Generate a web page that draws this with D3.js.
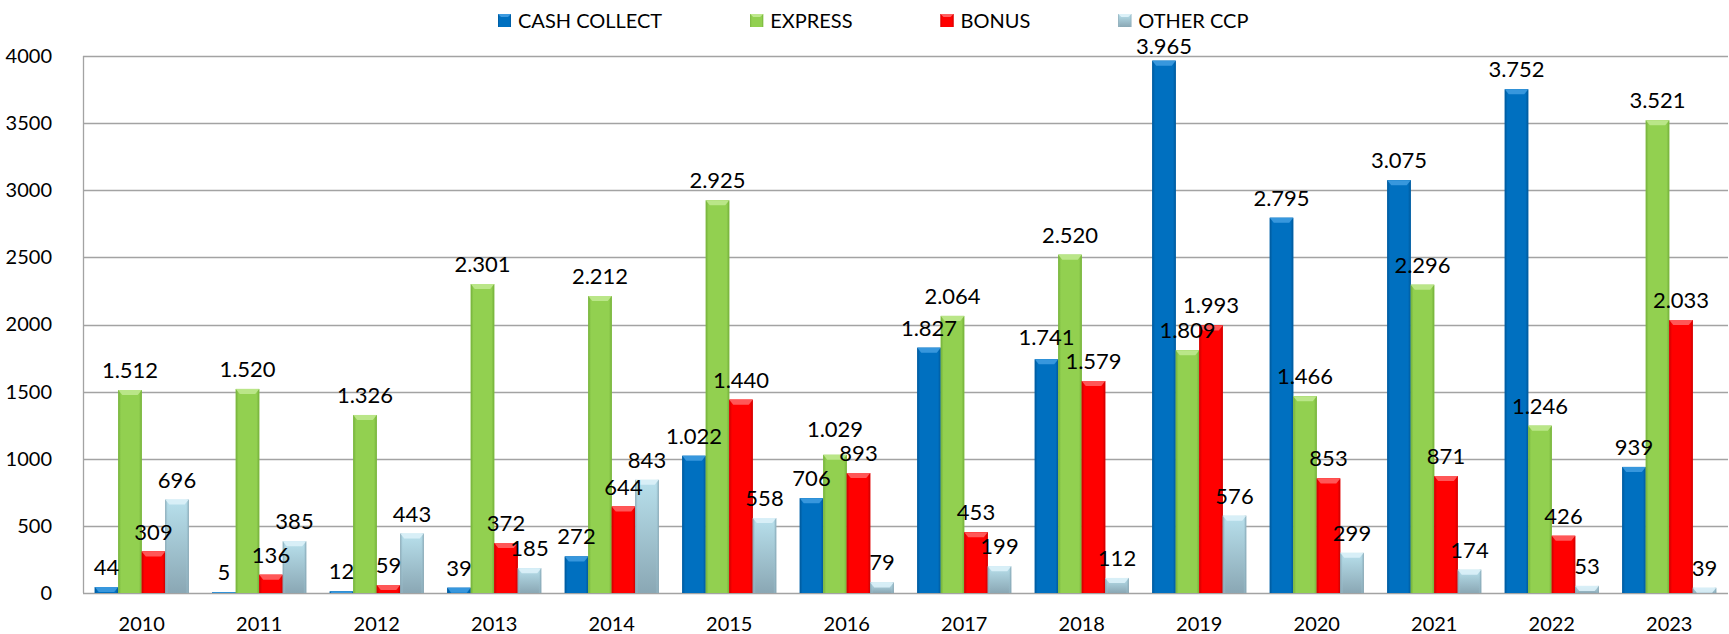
<!DOCTYPE html>
<html>
<head>
<meta charset="utf-8">
<script src="https://cdn.jsdelivr.net/npm/d3@7"></script>
<style>
  body { margin: 0; background: #fff; }
  svg { display: block; font-family: Lato, "Open Sans", sans-serif; }
</style>
</head>
<body>
<div id="chart"></div>
<script>
// data
var years = ["2010","2011","2012","2013","2014","2015","2016","2017","2018","2019","2020","2021","2022","2023"];
var seriesNames = ["CASH COLLECT", "EXPRESS", "BONUS", "OTHER CCP"];
var cashCollect = [44, 5, 12, 39, 272, 1022, 706, 1827, 1741, 3965, 2795, 3075, 3752, 939];
var express     = [1512, 1520, 1326, 2301, 2212, 2925, 1029, 2064, 2520, 1809, 1466, 2296, 1246, 3521];
var bonus       = [309, 136, 59, 372, 644, 1440, 893, 453, 1579, 1993, 853, 871, 426, 2033];
var otherCcp    = [696, 385, 443, 185, 843, 558, 79, 199, 112, 576, 299, 174, 53, 39];
var yTicks = [0, 500, 1000, 1500, 2000, 2500, 3000, 3500, 4000];

var allSeries = [cashCollect, express, bonus, otherCcp];

var width = 1729, height = 634;
var margin = { left: 83, right: 1, top: 56, bottom: 41 };

// colours: body, edge, bevel
var styles = [
    { key: "s0", body: "#0070C0", edge: "#00589a", bevel: "#3d9be0" },
    { key: "s1", body: "#92D050", edge: "#74b03a", bevel: "#bfe88e" },
    { key: "s2", body: "#FF0000", edge: "#cc0000", bevel: "#ff6060" },
    { key: "s3", body: "#A9D2E0", edge: "#7f9eac", bevel: "#dcf1f8", top: "#B8E0EC", bottom: "#8AA7B4" }
];

var fmt = d3.formatLocale({ decimal: ",", thousands: ".", grouping: [3], currency: ["", "€"] }).format(",d");

var svg = d3.select("#chart").append("svg")
    .attr("width", width)
    .attr("height", height);

var defs = svg.append("defs");
styles.forEach(function(s, i){
    var g = defs.append("linearGradient").attr("id", "h" + s.key)
        .attr("x1", "0").attr("x2", "1").attr("y1", "0").attr("y2", "0");
    g.append("stop").attr("offset", "0").attr("stop-color", s.edge);
    g.append("stop").attr("offset", "0.12").attr("stop-color", s.body).attr("stop-opacity", i == 3 ? 0 : 1);
    g.append("stop").attr("offset", "0.88").attr("stop-color", s.body).attr("stop-opacity", i == 3 ? 0 : 1);
    g.append("stop").attr("offset", "1").attr("stop-color", s.edge);
    if (s.top) {
        var v = defs.append("linearGradient").attr("id", "v" + s.key)
            .attr("x1", "0").attr("x2", "0").attr("y1", "0").attr("y2", "1");
        v.append("stop").attr("offset", "0").attr("stop-color", s.top);
        v.append("stop").attr("offset", "1").attr("stop-color", s.bottom);
    }
});

var x0 = d3.scaleBand()
    .domain(years)
    .range([margin.left, width - margin.right]);

var x1 = d3.scaleBand()
    .domain(d3.range(seriesNames.length))
    .range([0, x0.bandwidth()])
    .paddingOuter(0.5);

var y = d3.scaleLinear()
    .domain([0, 4000])
    .range([height - margin.bottom, margin.top]);

// gridlines
svg.append("g").selectAll("line")
    .data(yTicks)
    .enter().append("line")
    .attr("x1", margin.left)
    .attr("x2", width - margin.right)
    .attr("y1", d => Math.round(y(d)) + 0.5)
    .attr("y2", d => Math.round(y(d)) + 0.5)
    .attr("stroke", "#a3a3a3")
    .attr("stroke-width", 1.3);

svg.append("line")
    .attr("x1", margin.left + 0.5).attr("x2", margin.left + 0.5)
    .attr("y1", y(4000)).attr("y2", y(0))
    .attr("stroke", "#a3a3a3")
    .attr("stroke-width", 1.3);

// y axis labels
var yAxis = svg.append("g")
    .attr("transform", "translate(" + margin.left + ",0)")
    .call(d3.axisLeft(y).tickValues(yTicks).tickSize(0).tickPadding(31).tickFormat(d3.format("d")));
yAxis.select(".domain").remove();
yAxis.selectAll("text")
    .attr("font-family", "Lato, sans-serif")
    .attr("font-size", 20)
    .attr("fill", "#000");

// x axis labels
var xAxis = svg.append("g")
    .attr("transform", "translate(0," + y(0) + ")")
    .call(d3.axisBottom(x0).tickSize(0).tickPadding(24));
xAxis.select(".domain").remove();
xAxis.selectAll("text")
    .attr("font-family", "Lato, sans-serif")
    .attr("font-size", 20)
    .attr("fill", "#000");

// bars
var bars = [];
years.forEach(function(yr, i){
    allSeries.forEach(function(arr, s){
        bars.push({ year: yr, i: i, s: s, value: arr[i] });
    });
});

var barG = svg.append("g").selectAll("g")
    .data(bars)
    .enter().append("g");

barG.append("rect")
    .attr("x", d => x0(d.year) + x1(d.s))
    .attr("y", d => y(d.value))
    .attr("width", x1.bandwidth())
    .attr("height", d => y(0) - y(d.value))
    .attr("fill", d => styles[d.s].top ? "url(#v" + styles[d.s].key + ")" : styles[d.s].body);

barG.append("rect")
    .attr("x", d => x0(d.year) + x1(d.s))
    .attr("y", d => y(d.value))
    .attr("width", x1.bandwidth())
    .attr("height", d => y(0) - y(d.value))
    .attr("fill", d => "url(#h" + styles[d.s].key + ")");

// bevelled top edge
barG.append("path")
    .attr("d", function(d){
        var bx = x0(d.year) + x1(d.s), bw = x1.bandwidth();
        var top = y(d.value), h = Math.min(5, y(0) - top), inset = Math.min(4, h);
        return "M" + bx + "," + top + "L" + (bx + bw) + "," + top +
            "L" + (bx + bw - inset) + "," + (top + h) + "L" + (bx + inset) + "," + (top + h) + "Z";
    })
    .attr("fill", d => styles[d.s].bevel)
    .attr("opacity", 0.9);

// legend
var legend = svg.append("g").attr("transform", "translate(498,0)");
var lx = 0;
seriesNames.forEach(function(name, s){
    var item = legend.append("g").attr("transform", "translate(" + lx + ",0)");
    item.append("rect")
        .attr("x", 0).attr("y", 14)
        .attr("width", 13).attr("height", 13)
        .attr("fill", styles[s].top ? "url(#v" + styles[s].key + ")" : styles[s].body);
    item.append("rect")
        .attr("x", 0).attr("y", 14)
        .attr("width", 13).attr("height", 13)
        .attr("fill", "url(#h" + styles[s].key + ")");
    item.append("path")
        .attr("d", "M0,14L13,14L10,17L3,17Z")
        .attr("fill", styles[s].bevel);
    var t = item.append("text")
        .attr("x", 20).attr("y", 28)
        .attr("font-family", "Lato, sans-serif")
        .attr("font-size", 20)
        .attr("fill", "#000")
        .text(name);
    lx += 20 + t.node().getComputedTextLength() + 88;
});
var legendBox = legend.node().getBBox();
var legendRight = 498 + legendBox.x + legendBox.width;
var legendBottom = legendBox.y + legendBox.height;

// value labels, nudged up when they collide
var labelSize = 22, boxH = 23;
var labels = svg.append("g").selectAll("text")
    .data(bars)
    .enter().append("text")
    .attr("x", d => x0(d.year) + x1(d.s) + x1.bandwidth() / 2)
    .attr("text-anchor", "middle")
    .attr("font-family", "Lato, sans-serif")
    .attr("font-size", labelSize)
    .attr("fill", "#000")
    .text(d => fmt(d.value));

labels.each(function(d){
    var w = this.getComputedTextLength();
    d.lx = x0(d.year) + x1(d.s) + x1.bandwidth() / 2 - w / 2;
    d.lw = w;
    d.base = y(d.value) - 12;
    // keep clear of the legend
    if (d.lx < legendRight && d.lx + d.lw > 498 && d.base - boxH + 2 < legendBottom) {
        d.base = Math.min(y(d.value) - 3, legendBottom + boxH - 1);
    }
});
var order = bars.slice().sort((a, b) => b.base - a.base);
var placed = [];
order.forEach(function(d){
    var moved = true;
    while (moved) {
        moved = false;
        placed.forEach(function(p){
            var ox = d.lx < p.lx + p.lw + 3 && p.lx < d.lx + d.lw + 3;
            var oy = d.base - boxH < p.base && p.base - boxH < d.base;
            if (ox && oy) { d.base = p.base - boxH - 1; moved = true; }
        });
    }
    placed.push(d);
});
labels.attr("y", d => d.base);
</script>
</body>
</html>
